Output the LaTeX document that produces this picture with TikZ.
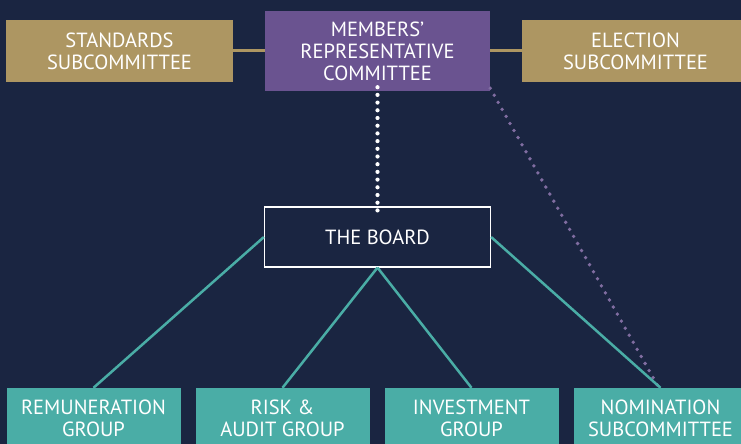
\documentclass[tikz,border=0pt]{standalone}
\usepackage{fontspec}
\setmainfont{PT Sans}
\usepackage{tikz}
\usetikzlibrary{shapes.geometric, arrows}
\definecolor{navy}{HTML}{1A2541}
\definecolor{gold}{HTML}{AD9662}
\definecolor{plum}{HTML}{6A5390}
\definecolor{teal}{HTML}{4AADA6}
\tikzstyle{subcom} = [rectangle, minimum width=227pt, minimum height=62pt, text centered, align=center, fill=gold, text=white]
\tikzstyle{mrc} = [rectangle, minimum width=225pt, minimum height=80pt, text centered, align=center, fill=plum, text=white]
\tikzstyle{boardbox} = [rectangle, minimum width=226pt, minimum height=60pt, text centered, draw=white, line width=1.2pt, fill=navy, text=white]
\tikzstyle{group} = [rectangle, minimum width=174pt, minimum height=60pt, text centered, align=center, fill=teal, text=white, text depth=0pt]
\tikzstyle{tealline} = [teal, line width=2.5pt]
\tikzstyle{goldline} = [gold, line width=3pt]

\begin{document}
\begin{tikzpicture}[x=1pt, y=-1pt, font=\fontsize{20.5}{22}\selectfont]
	\fill [navy] (0,0) rectangle (741,444);
	\useasboundingbox (0,0) rectangle (741,444);
	
	\node (members) [mrc] at (377.5,51) {MEMBERS'\\REPRESENTATIVE\\COMMITTEE};
	\node (standards) [subcom, left of=members, node distance=258pt] {STANDARDS\\SUBCOMMITTEE};
	\node (election) [subcom, right of=members, node distance=258pt] {ELECTION\\SUBCOMMITTEE};
	\node (board) [boardbox, below of=members, node distance=186pt] {THE BOARD};
	\node (risk) [group, below of=board, xshift=-95pt, node distance=181pt] {RISK \&\\AUDIT GROUP};
	\node (remun) [group, left of=risk, node distance=189pt] {REMUNERATION\\GROUP};
	\node (invest) [group, right of=risk, node distance=189pt] {INVESTMENT\\GROUP};
	\node (nomin) [group, right of=invest, node distance=189pt] {NOMINATION\\SUBCOMMITTEE};
	
	\draw [goldline] (standards) -- (members);
	\draw [goldline] (members) -- (election);
	\draw [white, line width=4.2pt, line cap=round, dash pattern=on 0pt off 7.7pt] ([yshift=4pt]members.south) -- ([yshift=-4pt]board.north);
	\draw [plum!85!white, line width=3.8pt, line cap=round, dash pattern=on 0pt off 8.1pt] ([yshift=3pt]members.south east) -- ([yshift=-3pt]nomin.north);
	\draw [tealline] (board.west) -- (remun.north);
	\draw [tealline] (board.south) -- (risk.north);
	\draw [tealline] (board.south) -- (invest.north);
	\draw [tealline] (board.east) -- (nomin.north);
	\end{tikzpicture}
\end{document}
